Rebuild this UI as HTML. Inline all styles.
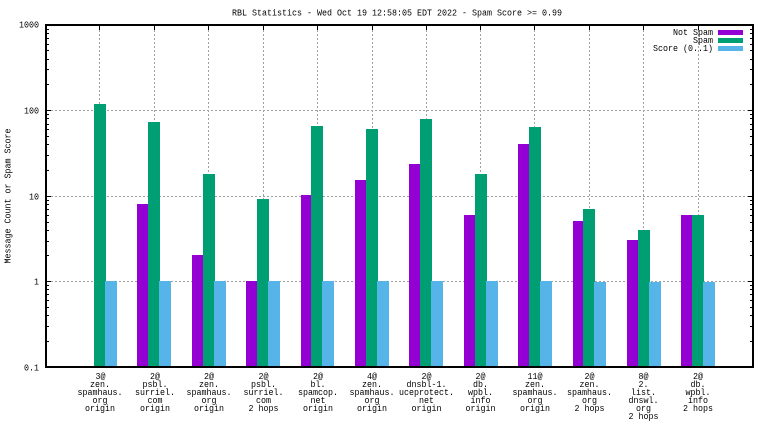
<!DOCTYPE html>
<html><head><meta charset="utf-8"><style>
html,body{margin:0;padding:0;background:#fff;}
svg{display:block;}
text{font-family:"Liberation Mono",monospace;font-size:9px;fill:#000;}
</style></head><body>
<svg width="768" height="432" viewBox="0 0 768 432" xmlns="http://www.w3.org/2000/svg">
<rect width="768" height="432" fill="#fff"/>
<!-- grid -->
<g stroke="#a0a0a0" stroke-width="1" stroke-dasharray="2,2" fill="none">
<path d="M47 110.5H752M47 196.5H752M47 281.5H752"/>
<path d="M99.5 30V366M154.5 30V366M208.5 30V366M263.5 30V366M317.5 30V366M372.5 30V366M426.5 30V366M480.5 30V366M534.5 30V366M589.5 30V366M643.5 30V366M698.5 30V366"/>
</g>
<!-- bars: purple -->
<g fill="#9400d3">
<rect x="137" y="204" width="11" height="163"/>
<rect x="192" y="255" width="11" height="112"/>
<rect x="246" y="281" width="11" height="86"/>
<rect x="301" y="195" width="10" height="172"/>
<rect x="355" y="180" width="11" height="187"/>
<rect x="409" y="164" width="11" height="203"/>
<rect x="464" y="215" width="11" height="152"/>
<rect x="518" y="144" width="11" height="223"/>
<rect x="573" y="221" width="10" height="146"/>
<rect x="627" y="240" width="11" height="127"/>
<rect x="681" y="215" width="11" height="152"/>
</g>
<!-- bars: green -->
<g fill="#009e73">
<rect x="94" y="104" width="12" height="263"/>
<rect x="148" y="122" width="12" height="245"/>
<rect x="203" y="174" width="12" height="193"/>
<rect x="257" y="199" width="12" height="168"/>
<rect x="311" y="126" width="12" height="241"/>
<rect x="366" y="129" width="12" height="238"/>
<rect x="420" y="119" width="12" height="248"/>
<rect x="475" y="174" width="12" height="193"/>
<rect x="529" y="127" width="12" height="240"/>
<rect x="583" y="209" width="12" height="158"/>
<rect x="638" y="230" width="12" height="137"/>
<rect x="692" y="215" width="12" height="152"/>
</g>
<!-- bars: blue -->
<g fill="#56b4e9">
<rect x="105" y="281" width="12" height="86"/>
<rect x="159" y="281" width="12" height="86"/>
<rect x="214" y="281" width="12" height="86"/>
<rect x="268" y="281" width="12" height="86"/>
<rect x="322" y="281" width="12" height="86"/>
<rect x="377" y="281" width="12" height="86"/>
<rect x="431" y="281" width="12" height="86"/>
<rect x="486" y="281" width="12" height="86"/>
<rect x="540" y="281" width="12" height="86"/>
<rect x="594" y="282" width="12" height="85"/>
<rect x="649" y="282" width="12" height="85"/>
<rect x="703" y="282" width="12" height="85"/>
</g>
<!-- ticks -->
<g stroke="#000" stroke-width="1" fill="none">
<path d="M47 110.5H51M47 196.5H51M47 281.5H51M752 110.5H748M752 196.5H748M752 281.5H748"/>
<path d="M47 341.5H49M47 326.5H49M47 315.5H49M47 307.5H49M47 300.5H49M47 294.5H49M47 289.5H49M47 285.5H49
M47 255.5H49M47 241.5H49M47 230.5H49M47 222.5H49M47 215.5H49M47 209.5H49M47 204.5H49M47 200.5H49
M47 170.5H49M47 155.5H49M47 144.5H49M47 136.5H49M47 129.5H49M47 124.5H49M47 118.5H49M47 114.5H49
M47 84.5H49M47 69.5H49M47 59.5H49M47 50.5H49M47 44.5H49M47 38.5H49M47 33.5H49M47 29.5H49
M752 341.5H750M752 326.5H750M752 315.5H750M752 307.5H750M752 300.5H750M752 294.5H750M752 289.5H750M752 285.5H750
M752 255.5H750M752 241.5H750M752 230.5H750M752 222.5H750M752 215.5H750M752 209.5H750M752 204.5H750M752 200.5H750
M752 170.5H750M752 155.5H750M752 144.5H750M752 136.5H750M752 129.5H750M752 124.5H750M752 118.5H750M752 114.5H750
M752 84.5H750M752 69.5H750M752 59.5H750M752 50.5H750M752 44.5H750M752 38.5H750M752 33.5H750M752 29.5H750"/>
<path d="M99.5 26V30M154.5 26V30M208.5 26V30M263.5 26V30M317.5 26V30M372.5 26V30M426.5 26V30M480.5 26V30M534.5 26V30M589.5 26V30M643.5 26V30M698.5 26V30"/>
</g>
<!-- border -->
<g fill="#000">
<rect x="45" y="24" width="709" height="2"/>
<rect x="45" y="366" width="709" height="2"/>
<rect x="45" y="24" width="2" height="344"/>
<rect x="752" y="24" width="2" height="344"/>
</g>
<!-- title -->
<text x="232" y="15.5" textLength="330" lengthAdjust="spacingAndGlyphs">RBL Statistics - Wed Oct 19 12:58:05 EDT 2022 - Spam Score &gt;= 0.99</text>
<!-- y tick labels -->
<g text-anchor="end">
<text x="39" y="27.5" textLength="20" lengthAdjust="spacingAndGlyphs">1000</text>
<text x="39" y="113.5" textLength="15" lengthAdjust="spacingAndGlyphs">100</text>
<text x="39" y="199.5" textLength="10" lengthAdjust="spacingAndGlyphs">10</text>
<text x="39" y="284.5" textLength="5" lengthAdjust="spacingAndGlyphs">1</text>
<text x="39" y="370.5" textLength="15" lengthAdjust="spacingAndGlyphs">0.1</text>
</g>
<!-- y axis label -->
<text transform="translate(10.5,196) rotate(-90)" text-anchor="middle" textLength="135" lengthAdjust="spacingAndGlyphs">Message Count or Spam Score</text>
<!-- legend -->
<g text-anchor="end">
<text x="713" y="35" textLength="40" lengthAdjust="spacingAndGlyphs">Not Spam</text>
<text x="713" y="43" textLength="20" lengthAdjust="spacingAndGlyphs">Spam</text>
<text x="713" y="51" textLength="60" lengthAdjust="spacingAndGlyphs">Score (0..1)</text>
</g>
<rect x="718" y="30" width="25" height="5" fill="#9400d3"/>
<rect x="718" y="38" width="25" height="5" fill="#009e73"/>
<rect x="718" y="46" width="25" height="5" fill="#56b4e9"/>
<!-- x labels -->
<g text-anchor="middle">
<text x="100.5" y="379" textLength="10" lengthAdjust="spacingAndGlyphs">3@</text>
<text x="100" y="387" textLength="20" lengthAdjust="spacingAndGlyphs">zen.</text>
<text x="100" y="395" textLength="45" lengthAdjust="spacingAndGlyphs">spamhaus.</text>
<text x="100" y="403" textLength="15" lengthAdjust="spacingAndGlyphs">org</text>
<text x="100" y="411" textLength="30" lengthAdjust="spacingAndGlyphs">origin</text>

<text x="155" y="379" textLength="10" lengthAdjust="spacingAndGlyphs">2@</text>
<text x="155" y="387" textLength="25" lengthAdjust="spacingAndGlyphs">psbl.</text>
<text x="155" y="395" textLength="40" lengthAdjust="spacingAndGlyphs">surriel.</text>
<text x="155" y="403" textLength="15" lengthAdjust="spacingAndGlyphs">com</text>
<text x="155" y="411" textLength="30" lengthAdjust="spacingAndGlyphs">origin</text>

<text x="209" y="379" textLength="10" lengthAdjust="spacingAndGlyphs">2@</text>
<text x="209" y="387" textLength="20" lengthAdjust="spacingAndGlyphs">zen.</text>
<text x="209" y="395" textLength="45" lengthAdjust="spacingAndGlyphs">spamhaus.</text>
<text x="209" y="403" textLength="15" lengthAdjust="spacingAndGlyphs">org</text>
<text x="209" y="411" textLength="30" lengthAdjust="spacingAndGlyphs">origin</text>

<text x="263.5" y="379" textLength="10" lengthAdjust="spacingAndGlyphs">2@</text>
<text x="263.5" y="387" textLength="25" lengthAdjust="spacingAndGlyphs">psbl.</text>
<text x="263.5" y="395" textLength="40" lengthAdjust="spacingAndGlyphs">surriel.</text>
<text x="263.5" y="403" textLength="15" lengthAdjust="spacingAndGlyphs">com</text>
<text x="263.5" y="411" textLength="30" lengthAdjust="spacingAndGlyphs">2 hops</text>

<text x="318" y="379" textLength="10" lengthAdjust="spacingAndGlyphs">2@</text>
<text x="318" y="387" textLength="15" lengthAdjust="spacingAndGlyphs">bl.</text>
<text x="318" y="395" textLength="40" lengthAdjust="spacingAndGlyphs">spamcop.</text>
<text x="318" y="403" textLength="15" lengthAdjust="spacingAndGlyphs">net</text>
<text x="318" y="411" textLength="30" lengthAdjust="spacingAndGlyphs">origin</text>

<text x="372" y="379" textLength="10" lengthAdjust="spacingAndGlyphs">4@</text>
<text x="372" y="387" textLength="20" lengthAdjust="spacingAndGlyphs">zen.</text>
<text x="372" y="395" textLength="45" lengthAdjust="spacingAndGlyphs">spamhaus.</text>
<text x="372" y="403" textLength="15" lengthAdjust="spacingAndGlyphs">org</text>
<text x="372" y="411" textLength="30" lengthAdjust="spacingAndGlyphs">origin</text>

<text x="426.5" y="379" textLength="10" lengthAdjust="spacingAndGlyphs">2@</text>
<text x="426.5" y="387" textLength="40" lengthAdjust="spacingAndGlyphs">dnsbl-1.</text>
<text x="426.5" y="395" textLength="55" lengthAdjust="spacingAndGlyphs">uceprotect.</text>
<text x="426.5" y="403" textLength="15" lengthAdjust="spacingAndGlyphs">net</text>
<text x="426.5" y="411" textLength="30" lengthAdjust="spacingAndGlyphs">origin</text>

<text x="480.5" y="379" textLength="10" lengthAdjust="spacingAndGlyphs">2@</text>
<text x="480.5" y="387" textLength="15" lengthAdjust="spacingAndGlyphs">db.</text>
<text x="480.5" y="395" textLength="25" lengthAdjust="spacingAndGlyphs">wpbl.</text>
<text x="480.5" y="403" textLength="20" lengthAdjust="spacingAndGlyphs">info</text>
<text x="480.5" y="411" textLength="30" lengthAdjust="spacingAndGlyphs">origin</text>

<text x="535" y="379" textLength="15" lengthAdjust="spacingAndGlyphs">11@</text>
<text x="535" y="387" textLength="20" lengthAdjust="spacingAndGlyphs">zen.</text>
<text x="535" y="395" textLength="45" lengthAdjust="spacingAndGlyphs">spamhaus.</text>
<text x="535" y="403" textLength="15" lengthAdjust="spacingAndGlyphs">org</text>
<text x="535" y="411" textLength="30" lengthAdjust="spacingAndGlyphs">origin</text>

<text x="589.5" y="379" textLength="10" lengthAdjust="spacingAndGlyphs">2@</text>
<text x="589.5" y="387" textLength="20" lengthAdjust="spacingAndGlyphs">zen.</text>
<text x="589.5" y="395" textLength="45" lengthAdjust="spacingAndGlyphs">spamhaus.</text>
<text x="589.5" y="403" textLength="15" lengthAdjust="spacingAndGlyphs">org</text>
<text x="589.5" y="411" textLength="30" lengthAdjust="spacingAndGlyphs">2 hops</text>

<text x="643.5" y="379" textLength="10" lengthAdjust="spacingAndGlyphs">8@</text>
<text x="643.5" y="387" textLength="10" lengthAdjust="spacingAndGlyphs">2.</text>
<text x="643.5" y="395" textLength="25" lengthAdjust="spacingAndGlyphs">list.</text>
<text x="643.5" y="403" textLength="30" lengthAdjust="spacingAndGlyphs">dnswl.</text>
<text x="643.5" y="411" textLength="15" lengthAdjust="spacingAndGlyphs">org</text>
<text x="643.5" y="419" textLength="30" lengthAdjust="spacingAndGlyphs">2 hops</text>

<text x="698" y="379" textLength="10" lengthAdjust="spacingAndGlyphs">2@</text>
<text x="698" y="387" textLength="15" lengthAdjust="spacingAndGlyphs">db.</text>
<text x="698" y="395" textLength="25" lengthAdjust="spacingAndGlyphs">wpbl.</text>
<text x="698" y="403" textLength="20" lengthAdjust="spacingAndGlyphs">info</text>
<text x="698" y="411" textLength="30" lengthAdjust="spacingAndGlyphs">2 hops</text>
</g>
</svg>
</body></html>
